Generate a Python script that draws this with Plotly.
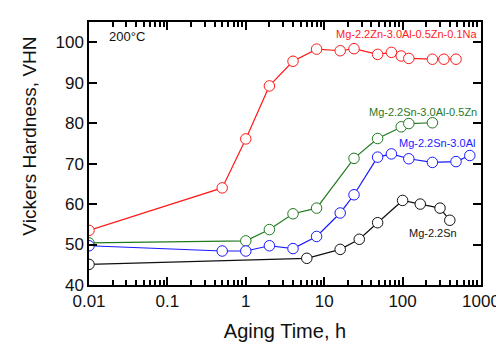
import plotly.graph_objects as go

# Data
red_x = [0.01, 0.5, 1, 2, 4, 8, 16, 24, 48, 72, 96, 120, 240, 336, 480]
red_y = [53.5, 64.0, 76.1, 89.2, 95.3, 98.3, 97.9, 98.4, 97.0, 97.5, 96.6, 96.0, 95.8, 95.8, 95.8]

green_x = [0.01, 1, 2, 4, 8, 24, 48, 96, 120, 240]
green_y = [50.4, 50.9, 53.7, 57.6, 59.0, 71.3, 76.2, 79.1, 79.9, 80.1]

blue_x = [0.01, 0.5, 1, 2, 4, 8, 16, 24, 48, 72, 120, 240, 480, 720]
blue_y = [49.7, 48.4, 48.4, 49.7, 49.0, 52.0, 57.8, 62.3, 71.6, 72.4, 71.2, 70.3, 70.5, 72.0]

black_x = [0.01, 6, 16, 28, 48, 100, 168, 300, 400]
black_y = [45.1, 46.6, 48.8, 51.3, 55.4, 60.9, 60.0, 59.0, 56.0]

x_tickvals = [0.01, 0.1, 1, 10, 100, 1000]
x_ticktext = ["0.01", "0.1", "1", "10", "100", "1000"]
y_tickvals = [40, 50, 60, 70, 80, 90, 100]

series = [
    ("Mg-2.2Zn-3.0Al-0.5Zn-0.1Na", red_x, red_y, "#ff1a1a"),
    ("Mg-2.2Sn-3.0Al-0.5Zn", green_x, green_y, "#1f7a1f"),
    ("Mg-2.2Sn-3.0Al", blue_x, blue_y, "#1a1aff"),
    ("Mg-2.2Sn", black_x, black_y, "#111111"),
]

minor_vals = [m * d for d in x_tickvals[:-1] for m in range(2, 10)]

fig = go.Figure()
for name, xs, ys, col in series:
    fig.add_trace(go.Scatter(
        x=xs, y=ys, mode="lines+markers", name=name,
        line=dict(color=col, width=1.2),
        marker=dict(symbol="circle", size=10.5, color="white",
                    line=dict(color=col, width=1)),
        showlegend=False,
    ))

font = "Liberation Sans, Arial, sans-serif"
annots = [
    dict(x=0.0, y=1, xref="paper", yref="paper", text="200°C", xanchor="left", yanchor="top",
         xshift=18, yshift=-5, showarrow=False, font=dict(size=13, color="#111")),
    dict(x=1, y=1, xref="paper", yref="paper", text="Mg-2.2Zn-3.0Al-0.5Zn-0.1Na",
         xanchor="right", yanchor="top", xshift=-2, yshift=-4, showarrow=False,
         font=dict(size=11, color="#ff1a1a")),
    dict(x=1, y=82.8, xref="paper", yref="y", text="Mg-2.2Sn-3.0Al-0.5Zn",
         xanchor="right", yanchor="middle", xshift=-2, showarrow=False,
         font=dict(size=11, color="#1f7a1f")),
    dict(x=1, y=75.1, xref="paper", yref="y", text="Mg-2.2Sn-3.0Al",
         xanchor="right", yanchor="middle", xshift=-4, showarrow=False,
         font=dict(size=11, color="#1a1aff")),
    dict(x=2.39, y=52.9, xref="x", yref="y", text="Mg-2.2Sn",
         xanchor="center", yanchor="middle", showarrow=False,
         font=dict(size=11, color="#111")),
    dict(x=0, y=0.564, xref="paper", yref="paper", text="Vickers Hardness, VHN",
         textangle=-90, xanchor="center", yanchor="middle", xshift=-59, showarrow=False,
         font=dict(size=19, color="#111")),
]

fig.update_layout(
    width=504, height=345,
    margin=dict(l=81, r=25, t=13, b=68),
    paper_bgcolor="white", plot_bgcolor="white",
    font=dict(family=font, color="#111"),
    annotations=annots,
    xaxis=dict(
        type="log", range=[-2, 3],
        tickmode="array", tickvals=x_tickvals, ticktext=x_ticktext,
        ticks="inside", ticklen=8, tickwidth=2, tickcolor="#000",
        minor=dict(tickmode="array", tickvals=minor_vals, ticks="inside", ticklen=5,
                   tickwidth=1.5, tickcolor="#000", showgrid=False),
        showline=True, linecolor="#000", linewidth=1.5, mirror="allticks",
        showgrid=False, zeroline=False, layer="above traces",
        tickfont=dict(size=17),
        title=dict(text="Aging Time, h", font=dict(size=20), standoff=14),
    ),
    yaxis=dict(
        range=[40, 105],
        tickmode="array", tickvals=y_tickvals,
        ticks="inside", ticklen=8, tickwidth=2, tickcolor="#000",
        showline=True, linecolor="#000", linewidth=1.5, mirror="allticks",
        showgrid=False, zeroline=False, layer="above traces",
        tickfont=dict(size=17),
    ),
)

fig.write_html("out.html")
